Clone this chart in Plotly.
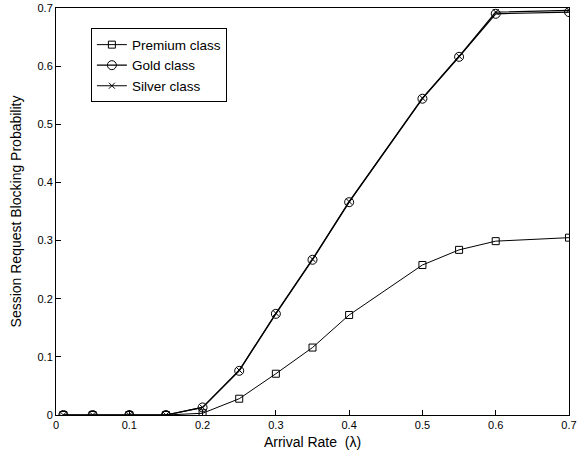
import plotly.graph_objects as go

x_vals = [0.01, 0.05, 0.1, 0.15, 0.2, 0.25, 0.3, 0.35, 0.4, 0.5, 0.55, 0.6, 0.7]
premium = [0.0, 0.0, 0.0, 0.0, 0.003, 0.028, 0.071, 0.116, 0.172, 0.258, 0.284, 0.299, 0.305]
gold = [0.0, 0.0, 0.0, 0.0, 0.013, 0.076, 0.174, 0.267, 0.366, 0.544, 0.616, 0.690, 0.693]
silver = [0.0, 0.0, 0.0, 0.0, 0.013, 0.077, 0.175, 0.268, 0.367, 0.545, 0.617, 0.693, 0.696]

x_ticks = [0, 0.1, 0.2, 0.3, 0.4, 0.5, 0.6, 0.7]
y_ticks = [0, 0.1, 0.2, 0.3, 0.4, 0.5, 0.6, 0.7]
tick_text = ["0", "0.1", "0.2", "0.3", "0.4", "0.5", "0.6", "0.7"]

FONT = "Liberation Sans, Arial, sans-serif"

fig = go.Figure()
fig.add_trace(go.Scatter(x=x_vals, y=premium, mode="lines+markers", name="Premium class",
                         line=dict(color="black", width=1),
                         marker=dict(symbol="square-open", size=7, color="black", line=dict(width=1))))
fig.add_trace(go.Scatter(x=x_vals, y=gold, mode="lines+markers", name="Gold class",
                         line=dict(color="black", width=1.2),
                         marker=dict(symbol="circle-open", size=9, color="black", line=dict(width=1))))
fig.add_trace(go.Scatter(x=x_vals, y=silver, mode="lines+markers", name="Silver class",
                         line=dict(color="black", width=1.2),
                         marker=dict(symbol="x-thin-open", size=6, color="black", line=dict(width=1, color="black"))))

axis_common = dict(showgrid=False, zeroline=False, showline=True, linecolor="black", linewidth=1,
                   mirror=True, ticks="inside", ticklen=5, tickcolor="black",
                   tickfont=dict(family=FONT, size=11, color="black"))

fig.update_xaxes(range=[0, 0.7], tickvals=x_ticks, ticktext=tick_text,
                 title=dict(text="Arrival Rate  (λ)", font=dict(family=FONT, size=14, color="black"), standoff=6),
                 **axis_common)
fig.update_yaxes(range=[0, 0.7], tickvals=y_ticks, ticktext=tick_text,
                 title=dict(text="Session Request Blocking Probability", font=dict(family=FONT, size=14, color="black"), standoff=12),
                 **axis_common)

fig.update_layout(
    width=578, height=459,
    margin=dict(l=56, r=9, t=8, b=44, autoexpand=False),
    plot_bgcolor="white", paper_bgcolor="white",
    legend=dict(x=0.068, y=0.95, xanchor="left", yanchor="top",
                bordercolor="black", borderwidth=1, bgcolor="white",
                font=dict(family=FONT, size=13.5, color="black"),
                tracegroupgap=0, itemwidth=30),
)

fig.write_html("out.html", config={"displayModeBar": False},
               post_script="document.body.style.margin='0';document.body.style.padding='0';")
